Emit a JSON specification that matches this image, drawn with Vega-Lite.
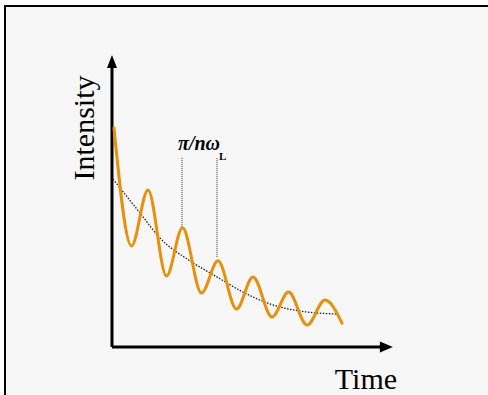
{
  "$schema": "https://vega.github.io/schema/vega-lite/v6.json",
  "width": 485,
  "height": 391,
  "autosize": "none",
  "padding": {"left": 5, "top": 6, "right": 0, "bottom": 0},
  "background": "#ffffff",
  "config": {"view": {"stroke": "#000000", "strokeWidth": 2, "fill": "#f7f7f7"}},
  "datasets": {
    "osc": [
      {"t": 0.071, "I": 7.50},
      {"t": 0.696, "I": 3.46},
      {"t": 1.286, "I": 5.38},
      {"t": 1.946, "I": 2.43},
      {"t": 2.518, "I": 4.08},
      {"t": 3.196, "I": 1.85},
      {"t": 3.786, "I": 2.95},
      {"t": 4.446, "I": 1.30},
      {"t": 5.036, "I": 2.40},
      {"t": 5.714, "I": 1.03},
      {"t": 6.304, "I": 1.88},
      {"t": 6.964, "I": 0.75},
      {"t": 7.607, "I": 1.61},
      {"t": 8.214, "I": 0.82}
    ],
    "decay": [
      {"t": 0.036, "I": 5.75},
      {"t": 1.0, "I": 4.59},
      {"t": 1.714, "I": 3.73},
      {"t": 2.786, "I": 2.95},
      {"t": 3.75, "I": 2.40},
      {"t": 4.679, "I": 1.88},
      {"t": 5.75, "I": 1.44},
      {"t": 6.714, "I": 1.23},
      {"t": 8.036, "I": 1.13}
    ],
    "guides": [
      {"t": 2.5, "I": 6.47, "I2": 4.08},
      {"t": 3.75, "I": 6.47, "I2": 3.08}
    ],
    "axes": [
      {"t": 0, "I": 0, "t2": 0, "I2": 9.6},
      {"t": 0, "I": 0, "t2": 9.6, "I2": 0}
    ],
    "arrowUp": [{"t": 0, "I": 9.78}],
    "arrowRight": [{"t": 9.8, "I": 0}],
    "ylab": [{"t": -0.643, "I": 7.5, "label": "Intensity"}],
    "xlab": [{"t": 9.07, "I": -1.44, "label": "Time"}],
    "ann": [{"t": 2.357, "I": 6.74, "label": "π/nω"}],
    "annsub": [{"t": 3.82, "I": 6.42, "label": "L"}]
  },
  "encoding": {
    "x": {"field": "t", "type": "quantitative", "scale": {"domain": [-3.821, 13.5], "nice": false, "zero": false}, "axis": null},
    "y": {"field": "I", "type": "quantitative", "scale": {"domain": [-1.712, 11.678], "nice": false, "zero": false}, "axis": null}
  },
  "layer": [
    {
      "data": {"name": "axes"},
      "mark": {"type": "rule", "color": "#000000", "strokeWidth": 3},
      "encoding": {"x2": {"field": "t2"}, "y2": {"field": "I2"}}
    },
    {
      "data": {"name": "arrowUp"},
      "mark": {"type": "point", "shape": "M0,-1L0.77,1L-0.77,1Z", "size": 169, "filled": true, "color": "#000000", "opacity": 1}
    },
    {
      "data": {"name": "arrowRight"},
      "mark": {"type": "point", "shape": "M1,0L-1,-0.85L-1,0.85Z", "size": 169, "filled": true, "color": "#000000", "opacity": 1}
    },
    {
      "data": {"name": "guides"},
      "mark": {"type": "rule", "color": "#333333", "strokeWidth": 1, "strokeDash": [1, 1]},
      "encoding": {"y2": {"field": "I2"}}
    },
    {
      "data": {"name": "decay"},
      "mark": {"type": "line", "color": "#222222", "strokeWidth": 1.3, "strokeDash": [1.5, 1.5], "interpolate": "monotone"}
    },
    {
      "data": {"name": "osc"},
      "mark": {"type": "line", "color": "#e8900c", "strokeWidth": 3, "interpolate": "monotone", "strokeCap": "round"}
    },
    {
      "data": {"name": "ylab"},
      "mark": {"type": "text", "angle": 270, "align": "center", "baseline": "alphabetic", "font": "Liberation Serif", "fontSize": 30, "color": "#000000"},
      "encoding": {"text": {"field": "label"}}
    },
    {
      "data": {"name": "xlab"},
      "mark": {"type": "text", "align": "center", "baseline": "alphabetic", "font": "Liberation Serif", "fontSize": 30, "color": "#000000"},
      "encoding": {"text": {"field": "label"}}
    },
    {
      "data": {"name": "ann"},
      "mark": {"type": "text", "align": "left", "baseline": "alphabetic", "font": "Liberation Serif", "fontSize": 20, "fontStyle": "italic", "fontWeight": "bold", "color": "#000000"},
      "encoding": {"text": {"field": "label"}}
    },
    {
      "data": {"name": "annsub"},
      "mark": {"type": "text", "align": "left", "baseline": "alphabetic", "font": "Liberation Serif", "fontSize": 11, "fontWeight": "bold", "color": "#000000"},
      "encoding": {"text": {"field": "label"}}
    }
  ]
}
